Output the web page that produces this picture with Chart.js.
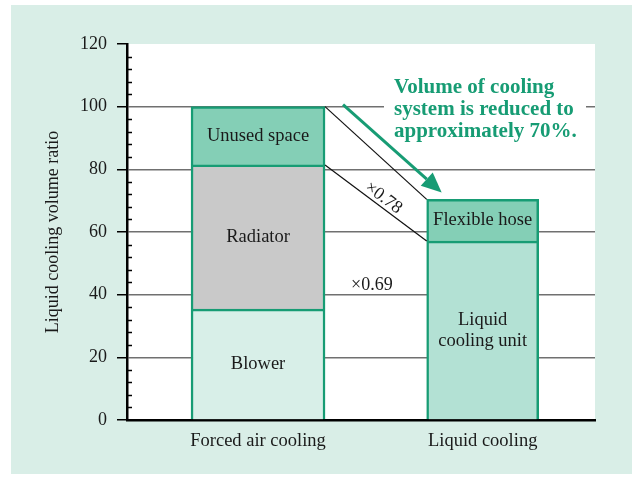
<!DOCTYPE html>
<html>
<head>
<meta charset="utf-8">
<script src="https://cdn.jsdelivr.net/npm/chart.js@4.4.1/dist/chart.umd.min.js"></script>
<style>
  body { margin: 0; background: #fff; }
  #wrap { width: 632px; height: 477px; }
</style>
</head>
<body>
<div id="wrap"><canvas id="chart" width="632" height="477"></canvas></div>
<script>
// data
const categories = ['Forced air cooling', 'Liquid cooling'];
const airParts = ['Blower', 'Radiator', 'Unused space'];
const airValues = [35.4, 46.0, 18.6];
const liquidParts = ['Liquid\ncooling unit', 'Flexible hose'];
const liquidValues = [57.1, 13.3];
const yTicks = [0, 20, 40, 60, 80, 100, 120];
const ratioLabels = ['×0.78', '×0.69'];
const noteLines = ['Volume of cooling', 'system is reduced to', 'approximately 70%.'];

const GREEN = '#179c74';
const SERIF = '"Liberation Serif", "Times New Roman", serif';
const airColors = ['#d8efe8', '#c9c9c9', '#84cfb6'];
const liquidColors = ['#b3e1d4', '#84cfb6'];
const catPos = [28, 76];   // where the two columns sit on the hidden linear x scale

function floating(values, x) {
    let base = 0;
    return values.map(v => {
        const seg = [{ x: x, y: [base, base + v] }];
        base += v;
        return seg;
    });
}

const datasets = [];
floating(airValues, catPos[0]).forEach((d, i) => datasets.push({
    label: airParts[i], data: d, backgroundColor: airColors[i],
    borderColor: GREEN, borderWidth: 2.5, borderSkipped: 'bottom',
    barThickness: 134, grouped: false
}));
floating(liquidValues, catPos[1]).forEach((d, i) => datasets.push({
    label: liquidParts[i], data: d, backgroundColor: liquidColors[i],
    borderColor: GREEN, borderWidth: 2.5, borderSkipped: 'bottom',
    barThickness: 112, grouped: false
}));

const sum = a => a.reduce((s, v) => s + v, 0);

const decor = {
    id: 'decor',
    beforeDraw(chart) {
        const { ctx, chartArea: a } = chart;
        ctx.save();
        ctx.fillStyle = '#d9eee7';
        ctx.fillRect(11, 5, chart.width - 11, chart.height - 8);
        ctx.fillStyle = '#ffffff';
        ctx.fillRect(a.left, a.top, a.right - a.left, a.bottom - a.top);
        ctx.restore();
    },
    afterDatasetsDraw(chart) {
        const { ctx, chartArea: a } = chart;
        const y = chart.scales.y;
        ctx.save();

        // minor ticks on the inside of the y axis
        ctx.strokeStyle = '#000';
        ctx.lineWidth = 1.5;
        for (let v = 4; v < 120; v += 4) {
            if (v % 20 === 0) continue;
            const py = Math.round(y.getPixelForValue(v)) + 0.5;
            ctx.beginPath();
            ctx.moveTo(a.left, py);
            ctx.lineTo(a.left + 5, py);
            ctx.stroke();
        }

        // labels inside the segments
        ctx.fillStyle = '#1a1a1a';
        ctx.font = '18.5px ' + SERIF;
        ctx.textAlign = 'center';
        ctx.textBaseline = 'middle';
        const nAir = airParts.length;
        datasets.forEach((ds, i) => {
            const el = chart.getDatasetMeta(i).data[0];
            const lines = ds.label.split('\n');
            const cy = (el.y + el.base) / 2;
            lines.forEach((t, k) => {
                ctx.fillText(t, el.x, cy + (k - (lines.length - 1) / 2) * 21);
            });
        });

        // connector lines
        const airEl = chart.getDatasetMeta(0).data[0];
        const liqEl = chart.getDatasetMeta(nAir).data[0];
        const airRight = airEl.x + airEl.width / 2;
        const liqLeft = liqEl.x - liqEl.width / 2;
        const p1 = [airRight, y.getPixelForValue(sum(airValues))];
        const q1 = [liqLeft, y.getPixelForValue(sum(liquidValues))];
        const p2 = [airRight, y.getPixelForValue(airValues[0] + airValues[1])];
        const q2 = [liqLeft, y.getPixelForValue(liquidValues[0])];
        ctx.strokeStyle = '#111';
        ctx.lineWidth = 1.2;
        [[p1, q1], [p2, q2]].forEach(([p, q]) => {
            ctx.beginPath();
            ctx.moveTo(p[0], p[1]);
            ctx.lineTo(q[0], q[1]);
            ctx.stroke();
        });

        // ratio labels
        ctx.fillStyle = '#1a1a1a';
        ctx.font = '18px ' + SERIF;
        ctx.textBaseline = 'alphabetic';
        const ang = Math.atan2(q2[1] - p2[1], q2[0] - p2[0]);
        ctx.save();
        ctx.translate((p2[0] + q2[0]) / 2, (p2[1] + q2[1]) / 2);
        ctx.rotate(ang);
        ctx.fillText(ratioLabels[0], 3, -4);
        ctx.restore();
        ctx.fillText(ratioLabels[1], (airRight + liqLeft) / 2 - 4, y.getPixelForValue(40) - 5);

        // note box
        const bx = a.left + 257, by = a.top + 28;
        ctx.fillStyle = '#ffffff';
        ctx.fillRect(bx, by, 202, 76);
        ctx.fillStyle = GREEN;
        ctx.font = 'bold 21px ' + SERIF;
        ctx.textAlign = 'left';
        noteLines.forEach((t, k) => ctx.fillText(t, bx + 10, by + 21 + k * 22));

        // green arrow
        const sx = airRight + 18, sy = p1[1] - 2;
        const ex = liqLeft + 15, ey = q1[1] - 7;
        const aa = Math.atan2(ey - sy, ex - sx);
        const hl = 20, hw = 9;
        const bxp = ex - hl * Math.cos(aa), byp = ey - hl * Math.sin(aa);
        ctx.strokeStyle = GREEN;
        ctx.fillStyle = GREEN;
        ctx.lineWidth = 3;
        ctx.beginPath();
        ctx.moveTo(sx, sy);
        ctx.lineTo(bxp, byp);
        ctx.stroke();
        ctx.beginPath();
        ctx.moveTo(ex, ey);
        ctx.lineTo(bxp - hw * Math.sin(aa), byp + hw * Math.cos(aa));
        ctx.lineTo(bxp + hw * Math.sin(aa), byp - hw * Math.cos(aa));
        ctx.closePath();
        ctx.fill();

        ctx.restore();
    }
};

new Chart(document.getElementById('chart'), {
    type: 'bar',
    data: { datasets: datasets },
    options: {
        responsive: false,
        animation: false,
        layout: { padding: { top: 44, right: 37, bottom: 0, left: 0 } },
        plugins: { legend: { display: false }, tooltip: { enabled: false } },
        scales: {
            x: {
                type: 'linear',
                min: 0, max: 100,
                offset: false,
                z: 1,
                grid: { display: false, drawTicks: false },
                border: { display: true, color: '#000', width: 2.5 },
                afterBuildTicks: s => { s.ticks = catPos.map(v => ({ value: v })); },
                afterFit: s => { s.height = 57; },
                ticks: {
                    autoSkip: false, maxRotation: 0, padding: 10,
                    color: '#1a1a1a',
                    font: { family: SERIF, size: 18.5 },
                    callback: (v, i) => categories[i]
                }
            },
            y: {
                min: 0, max: 120,
                afterBuildTicks: s => { s.ticks = yTicks.map(v => ({ value: v })); },
                afterFit: s => { s.width = 127; },
                grid: {
                    color: c => (c.tick && (c.tick.value === 0 || c.tick.value === 120)) ? 'rgba(0,0,0,0)' : '#707070',
                    lineWidth: 1.5,
                    tickColor: '#000',
                    tickLength: 10,
                    tickWidth: 1.5
                },
                border: { display: true, color: '#000', width: 2.5 },
                ticks: {
                    padding: 10,
                    color: '#1a1a1a',
                    font: { family: SERIF, size: 18 }
                },
                title: {
                    display: true,
                    text: 'Liquid cooling volume ratio',
                    color: '#1a1a1a',
                    font: { family: SERIF, size: 18 },
                    padding: { top: 42, bottom: 0 }
                }
            }
        }
    },
    plugins: [decor]
});
</script>
</body>
</html>
